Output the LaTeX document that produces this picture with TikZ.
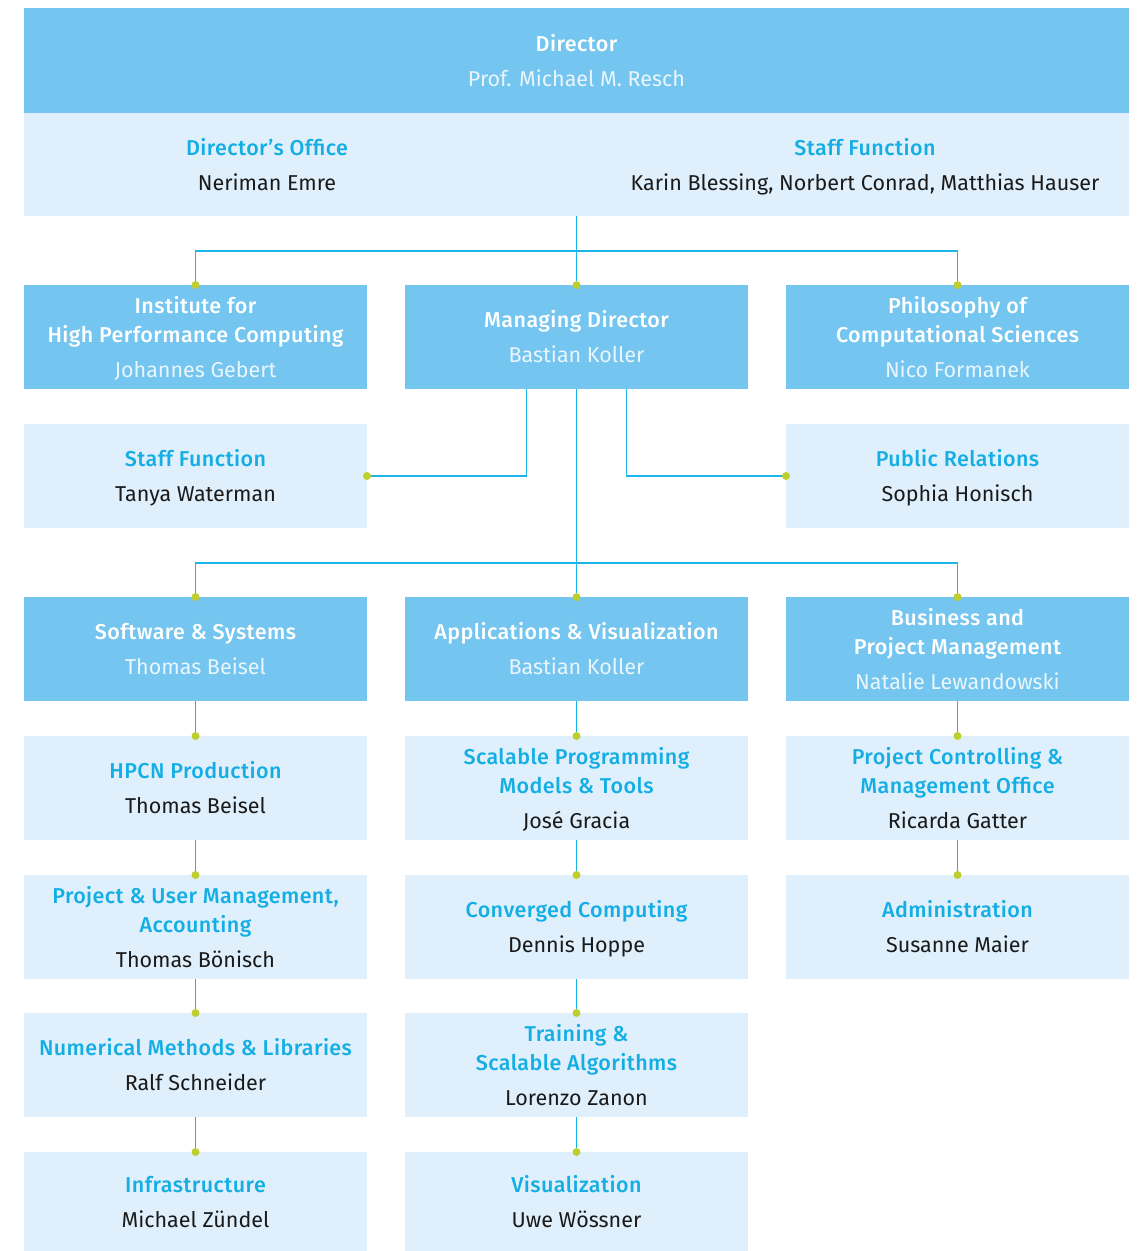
\documentclass[tikz,border=0pt]{standalone}
\usepackage{fontspec}
\setmainfont{Fira Sans}
\newfontfamily\tfont[LetterSpace=2,BoldFont={Fira Sans Medium}]{Fira Sans}
\definecolor{dark}{HTML}{74C5EF}
\definecolor{light}{HTML}{DFF0FC}
\definecolor{ttl}{HTML}{14AEE4}
\definecolor{wire}{HTML}{1BB5EA}
\definecolor{dot}{HTML}{BFCE2F}
\definecolor{dkname}{HTML}{EAF6FD}
\definecolor{ink}{HTML}{1A1A1A}
\newcommand\dt[1]{\tfont\bfseries\rule{0pt}{21.5pt}#1}
\newcommand\dn[1]{\color{dkname}\rule[-5pt]{0pt}{5pt}#1}
\newcommand\lt[1]{\tfont\bfseries\color{ttl}\rule{0pt}{21.5pt}#1}
\newcommand\nm[1]{\rule[-5pt]{0pt}{5pt}#1}
\begin{document}
\begin{tikzpicture}[x=1pt,y=-1pt,
  base/.style={minimum width=343pt,minimum height=104pt,inner sep=0pt,outer sep=0pt,
    align=center,anchor=north west,font=\fontsize{21.5}{29}\selectfont},
  dbox/.style={base,fill=dark,text=white},
  lbox/.style={base,fill=light,text=ink},
  txt/.style={inner sep=0pt,align=center,text=ink,font=\fontsize{21.5}{29}\selectfont},
  wire/.style={draw=wire,line width=1.6pt},
  tip/.style={fill=dot,draw=none}]
\useasboundingbox (0,0) rectangle (1138,1251);
% top
\node[dbox,minimum width=1105pt,minimum height=105pt] (dir) at (24,8) {\dt{Director}\\[6pt]\dn{Prof. Michael M. Resch}};
\node[lbox,minimum width=1105pt,minimum height=103pt] (office) at (24,113) {};
\node[txt,anchor=base] (doff) at (267,190) {\lt{Director’s Office}\\[6pt]Neriman Emre};
\node[txt,anchor=base] (sf1) at (865,190) {\lt{Staff Function}\\[6pt]Karin Blessing, Norbert Conrad, Matthias Hauser};
% row 1
\node[dbox] (hpc) at (24,285) {\dt{Institute for}\\\dt{High Performance Computing}\\[6pt]\dn{Johannes Gebert}};
\node[dbox] (md) at (405,285) {\dt{Managing Director}\\[6pt]\dn{Bastian Koller}};
\node[dbox] (phil) at (786,285) {\dt{Philosophy of}\\\dt{Computational Sciences}\\[6pt]\dn{Nico Formanek}};
% row 2
\node[lbox] (sf2) at (24,424) {\lt{Staff Function}\\[6pt]\nm{Tanya Waterman}};
\node[lbox] (pr) at (786,424) {\lt{Public Relations}\\[6pt]\nm{Sophia Honisch}};
% row 3
\node[dbox] (ss) at (24,597) {\dt{Software \& Systems}\\[6pt]\dn{Thomas Beisel}};
\node[dbox] (av) at (405,597) {\dt{Applications \& Visualization}\\[6pt]\dn{Bastian Koller}};
\node[dbox] (bpm) at (786,597) {\dt{Business and}\\\dt{Project Management}\\[6pt]\dn{Natalie Lewandowski}};
% column 1
\node[lbox] (hpcn) at (24,736) {\lt{HPCN Production}\\[6pt]\nm{Thomas Beisel}};
\node[lbox] (pum) at (24,875) {\lt{Project \& User Management,}\\\lt{Accounting}\\[6pt]\nm{Thomas Bönisch}};
\node[lbox] (num) at (24,1013) {\lt{Numerical Methods \& Libraries}\\[6pt]\nm{Ralf Schneider}};
\node[lbox,minimum height=99pt] (infra) at (24,1152) {\lt{Infrastructure}\\[6pt]\nm{Michael Zündel}};
% column 2
\node[lbox] (spm) at (405,736) {\lt{Scalable Programming}\\\lt{Models \& Tools}\\[6pt]\nm{José Gracia}};
\node[lbox] (cc) at (405,875) {\lt{Converged Computing}\\[6pt]\nm{Dennis Hoppe}};
\node[lbox] (tsa) at (405,1013) {\lt{Training \&}\\\lt{Scalable Algorithms}\\[6pt]\nm{Lorenzo Zanon}};
\node[lbox,minimum height=99pt] (vis) at (405,1152) {\lt{Visualization}\\[6pt]\nm{Uwe Wössner}};
% column 3
\node[lbox] (pcm) at (786,736) {\lt{Project Controlling \&}\\\lt{Management Office}\\[6pt]\nm{Ricarda Gatter}};
\node[lbox] (adm) at (786,875) {\lt{Administration}\\[6pt]\nm{Susanne Maier}};
% junctions
\coordinate (j1) at (576.5,251);
\coordinate (j2) at (576.5,563);
% connectors
\draw[wire] (office.south) -- (md.north);
\draw[wire] (hpc.north) |- (j1) -| (phil.north);
\draw[wire] ([xshift=-50pt]md.south) |- (sf2.east);
\draw[wire] ([xshift=50pt]md.south) |- (pr.west);
\draw[wire] (md.south) -- (av.north);
\draw[wire] (ss.north) |- (j2) -| (bpm.north);
\draw[wire] (ss.south) -- (hpcn.north);
\draw[wire] (hpcn.south) -- (pum.north);
\draw[wire] (pum.south) -- (num.north);
\draw[wire] (num.south) -- (infra.north);
\draw[wire] (av.south) -- (spm.north);
\draw[wire] (spm.south) -- (cc.north);
\draw[wire] (cc.south) -- (tsa.north);
\draw[wire] (tsa.south) -- (vis.north);
\draw[wire] (bpm.south) -- (pcm.north);
\draw[wire] (pcm.south) -- (adm.north);
% dots
\foreach \p in {hpc.north,md.north,phil.north,sf2.east,pr.west,ss.north,av.north,bpm.north,
  hpcn.north,pum.north,num.north,infra.north,spm.north,cc.north,tsa.north,vis.north,pcm.north,adm.north}
  \fill[tip] (\p) circle (4pt);
\end{tikzpicture}
\end{document}
